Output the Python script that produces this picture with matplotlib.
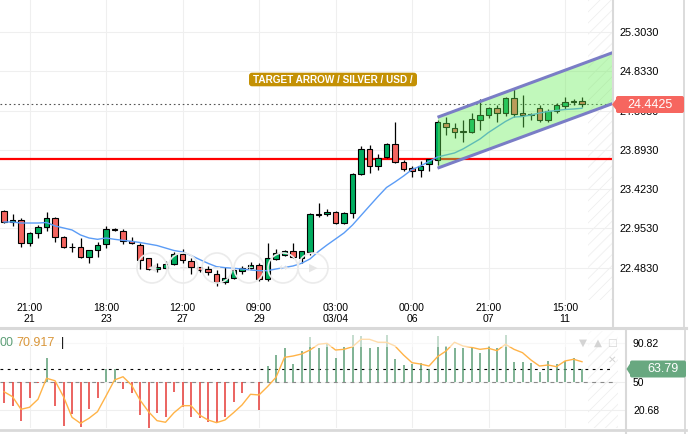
import matplotlib
matplotlib.use("Agg")
import matplotlib.pyplot as plt
from matplotlib.patches import Rectangle, FancyBboxPatch, Polygon, Ellipse
from matplotlib.lines import Line2D
from matplotlib.transforms import IdentityTransform

# ---------------- data ----------------
open_ = [23.162, 23.034, 23.054, 22.783, 22.895, 22.967, 23.075, 22.855, 22.737, 22.728,
         22.608, 22.696, 22.764, 22.943, 22.923, 22.803, 22.755, 22.596, 22.465, 22.484,
         22.528, 22.644, 22.564, 22.489, 22.465, 22.412, 22.309, 22.357, 22.444, 22.484,
         22.516, 22.345, 22.591, 22.639, 22.687, 22.603, 22.675, 23.122, 23.122, 23.146,
         23.015, 23.134, 23.601, 23.900, 23.700, 23.804, 23.960, 23.752, 23.673, 23.652,
         23.721, 23.772, 24.211, 24.151, 24.116, 24.111, 24.251, 24.310, 24.391, 24.338,
         24.510, 24.331, 24.307, 24.391, 24.251, 24.362, 24.422, 24.462, 24.478]
high = [23.174, 23.122, 23.075, 22.914, 22.994, 23.154, 23.094, 22.863, 22.783, 22.836,
        22.696, 22.795, 22.986, 22.955, 22.943, 22.855, 22.776, 22.600, 22.536, 22.564,
        22.668, 22.708, 22.603, 22.492, 22.508, 22.456, 22.496, 22.477, 22.504, 22.556,
        22.544, 22.776, 22.703, 22.696, 22.783, 22.680, 23.142, 23.254, 23.182, 23.162,
        23.154, 23.620, 23.940, 23.952, 23.840, 23.979, 24.230, 23.772, 23.700, 23.760,
        23.781, 24.251, 24.290, 24.211, 24.251, 24.338, 24.498, 24.410, 24.430, 24.529,
        24.618, 24.550, 24.331, 24.430, 24.379, 24.450, 24.522, 24.502, 24.522]
low = [23.015, 22.986, 22.735, 22.747, 22.843, 22.923, 22.795, 22.723, 22.668, 22.596,
       22.544, 22.608, 22.723, 22.923, 22.764, 22.764, 22.468, 22.456, 22.436, 22.468,
       22.516, 22.544, 22.408, 22.436, 22.396, 22.265, 22.285, 22.349, 22.405, 22.465,
       22.328, 22.325, 22.576, 22.627, 22.596, 22.544, 22.636, 23.094, 23.102, 23.003,
       23.003, 23.082, 23.589, 23.613, 23.652, 23.792, 23.733, 23.644, 23.572, 23.572,
       23.644, 23.712, 24.071, 24.032, 23.991, 24.091, 24.131, 24.271, 24.230, 24.298,
       24.283, 24.170, 24.251, 24.230, 24.230, 24.331, 24.382, 24.430, 24.410]
close = [23.027, 23.054, 22.776, 22.895, 22.967, 23.075, 22.855, 22.735, 22.728, 22.608,
         22.696, 22.755, 22.943, 22.939, 22.800, 22.783, 22.576, 22.465, 22.492, 22.528,
         22.644, 22.576, 22.489, 22.453, 22.429, 22.309, 22.357, 22.456, 22.484, 22.512,
         22.345, 22.596, 22.656, 22.687, 22.608, 22.680, 23.122, 23.114, 23.146, 23.015,
         23.134, 23.601, 23.900, 23.700, 23.800, 23.960, 23.752, 23.661, 23.640, 23.700,
         23.781, 24.223, 24.163, 24.111, 24.111, 24.259, 24.310, 24.391, 24.331, 24.510,
         24.322, 24.307, 24.322, 24.251, 24.362, 24.430, 24.462, 24.478, 24.4425]
ma = [23.030, 23.030, 23.018, 23.018, 23.018, 23.024, 22.983, 22.959, 22.935, 22.875,
      22.839, 22.823, 22.839, 22.823, 22.811, 22.799, 22.785, 22.767, 22.749, 22.719,
      22.689, 22.672, 22.630, 22.582, 22.536, 22.496, 22.484, 22.477, 22.468, 22.456,
      22.448, 22.448, 22.468, 22.486, 22.504, 22.536, 22.588, 22.678, 22.755, 22.827,
      22.899, 22.994, 23.108, 23.222, 23.335, 23.443, 23.509, 23.580, 23.658, 23.700,
      23.754, 23.808, 23.832, 23.856, 23.904, 23.963, 24.023, 24.101, 24.167, 24.233,
      24.286, 24.292, 24.310, 24.334, 24.352, 24.364, 24.376, 24.382, 24.391]
osc_bars = [27.4, 24.9, 8.8, 33.2, 49.0, 74.5, 24.9, 3.9, 15.9, 2.9,
            21.4, 32.6, 63.3, 63.0, 42.0, 37.9, 15.1, 1.8, 16.9, 13.4,
            38.9, 23.8, 13.4, 11.7, 7.5, 7.1, 13.4, 28.4, 37.9, 49.5,
            20.4, 66.4, 78.0, 85.0, 68.5, 82.1, 96.5, 85.6, 90.2, 74.5,
            86.6, 98.9, 97.9, 85.0, 86.0, 98.9, 73.8, 67.5, 68.5, 69.9,
            63.3, 97.9, 87.4, 85.6, 85.0, 85.6, 80.4, 87.4, 85.0, 98.9,
            70.9, 70.3, 69.9, 60.5, 71.7, 68.5, 72.0, 75.1, 63.79]
osc_line = [39.5, 34.3, 21.1, 23.2, 31.6, 53.6, 51.0, 34.3, 12.7, 6.4,
            11.7, 18.6, 35.0, 51.8, 55.2, 46.5, 30.8, 18.6, 9.2, 7.5,
            17.5, 24.9, 24.9, 15.1, 9.9, 7.1, 9.9, 17.5, 25.6, 36.8,
            36.1, 44.8, 54.6, 75.5, 76.9, 79.0, 83.2, 89.2, 90.2, 83.2,
            83.9, 86.6, 94.4, 94.4, 91.3, 91.3, 87.4, 78.0, 69.9, 68.5,
            66.4, 76.2, 82.1, 91.3, 87.4, 86.0, 83.9, 85.0, 82.5, 89.2,
            83.9, 80.4, 72.7, 66.4, 67.5, 65.7, 71.7, 73.5, 70.917]

tick_idx = [3, 12, 21, 30, 39, 48, 57, 66]
tick_labels = ["21:00\n21", "18:00\n23", "12:00\n27", "09:00\n29",
               "03:00\n03/04", "00:00\n06", "21:00\n07", "15:00\n11"]
price_ticks = [22.483, 22.953, 23.423, 23.893, 24.363, 24.833, 25.303]
osc_ticks = [20.68, 50, 90.82]

channel_x = [51, 71.6]
channel_upper = [24.283, 25.056]
channel_lower = [23.674, 24.447]
support_level = 23.787
last_price = 24.4425
last_osc = 63.79
last_osc_line = 70.917
title = "TARGET ARROW / SILVER / USD /"

# ---------------- figure ----------------
W, H = 696, 434
plt.rcParams["font.family"] = ["Liberation Sans", "DejaVu Sans"]
plt.rcParams["hatch.linewidth"] = 0.6
plt.rcParams["hatch.color"] = "#efefef"

fig = plt.figure(figsize=(W / 100, H / 100), dpi=100)
fig.patch.set_facecolor("white")


def fx(x):
    return x / W


def fy(y):
    return 1 - y / H


GREEN = "#00ad60"
RED = "#f4645f"

# main axes
ax = fig.add_axes([0, fy(300), fx(613), 300 / H])
x_left = -4 / 8.5
ax.set_xlim(x_left, (613 - 4) / 8.5)
ax.set_ylim(22.097, 25.686)
for s in ax.spines.values():
    s.set_visible(False)
ax.set_axisbelow(True)
ax.grid(True, color="#efefef", lw=0.8)
ax.yaxis.tick_right()
ax.set_yticks(price_ticks)
ax.set_yticklabels(["%.4f" % v for v in price_ticks])
ax.tick_params(axis="y", length=0, pad=5, labelsize=7.8, colors="black")
ax.set_xticks(tick_idx)
ax.set_xticklabels(tick_labels, linespacing=1.05)
ax.tick_params(axis="x", length=0, pad=2.5, labelsize=7.6)

# future hatch
ax.add_patch(Rectangle(((588 - 4) / 8.5, 22.0), 10, 4, facecolor="none",
                       edgecolor="#efefef", hatch="///", lw=0, zorder=0.5))

# nav circles (faint UI)
for cx, g in zip([152, 183, 217, 249, 283, 313], ["◀", "+", "−", "+", "↔", "▶"]):
    fig.add_artist(Ellipse((fx(cx), fy(268)), 30 / W, 30 / H, fc="none",
                           ec="#ebebeb", lw=1.2, zorder=0.6))
    fig.text(fx(cx), fy(268), g, color="#e6e6e6", fontsize=8, ha="center",
             va="center", family="DejaVu Sans", zorder=0.6)

ax.axhline(support_level, color="#ff0000", lw=1.6, zorder=2)
ax.axhline(last_price, color="#555555", lw=0.8, ls=(0, (1.5, 2.5)), zorder=2)

# candles
n = len(close)
bw = 0.62
for i in range(n):
    o, h, l, c = open_[i], high[i], low[i], close[i]
    col = GREEN if c >= o else RED
    ax.vlines(i, l, h, color="black", lw=0.9, zorder=3)
    b0 = min(o, c)
    bh = max(abs(c - o), 0.006)
    ax.add_patch(Rectangle((i - bw / 2, b0), bw, bh, facecolor=col,
                           edgecolor="black", lw=0.8, zorder=4))

ax.plot(range(n), ma, color="#5b9cf6", lw=1.0, zorder=5)

# channel
ax.fill_between(channel_x, channel_lower, channel_upper, color="#66ee55",
                alpha=0.4, lw=0, zorder=6)
ax.plot(channel_x, channel_upper, color="#7a7dc6", lw=2.2, zorder=7,
        solid_capstyle="butt")
ax.plot(channel_x, channel_lower, color="#7a7dc6", lw=2.2, zorder=7,
        solid_capstyle="butt")

# lower oscillator axes
ax2 = fig.add_axes([0, fy(428), fx(626), (428 - 331) / H])
ax2.set_xlim(x_left, (626 - 4) / 8.5)
ax2.set_ylim(1.5, 103.1)
for s in ax2.spines.values():
    s.set_visible(False)
ax2.set_axisbelow(True)
ax2.grid(True, color="#efefef", lw=0.8)
ax2.set_xticks(tick_idx)
ax2.set_xticklabels([])
ax2.yaxis.tick_right()
ax2.set_yticks(osc_ticks)
ax2.set_yticklabels(["20.68", "50", "90.82"])
ax2.tick_params(axis="y", length=0, pad=5, labelsize=7.5)
ax2.tick_params(axis="x", length=0)

ax2.add_patch(Rectangle(((588 - 4) / 8.5, 0), (30) / 8.5, 110, facecolor="none",
                        edgecolor="#efefef", hatch="///", lw=0, zorder=0.5))
xmax_frac = 613 / 626
ax2.axhline(50, xmax=xmax_frac, color="#8a8a8a", lw=0.8, ls=(0, (3.5, 4)), zorder=2)
ax2.axhline(last_osc, xmax=xmax_frac, color="black", lw=0.8, ls=(0, (2.5, 4)), zorder=2)
for i, v in enumerate(osc_bars):
    ax2.vlines(i, 50, v, color=("#5c9e76" if v >= 50 else "#e53935"), lw=1.1, zorder=3)
ax2.plot(range(n), osc_line, color="#ffb347", lw=1.0, zorder=4)
ax2.add_patch(Rectangle((x_left, 86.3), 80, 20, facecolor="white", alpha=0.55,
                        lw=0, zorder=5))

fig.text(fx(0), fy(343), "00", color="#5c9e76", fontsize=9, ha="left", va="center")
fig.text(fx(16.5), fy(343), "%.3f" % last_osc_line, color="#d9963a", fontsize=9,
         ha="left", va="center")
fig.text(fx(62), fy(343), "|", color="black", fontsize=9, ha="center", va="center")
for gx, gy, g in [(583, 343, "▼"), (598, 343, "▲"), (612, 343, "□"), (612, 360, "✕")]:
    fig.text(fx(gx), fy(gy), g, color="#d4d4d4", fontsize=7.5, ha="center",
             va="center", family="DejaVu Sans")

# separators
def hline(y, x0, x1, lw, col="#d9d9d9"):
    fig.add_artist(Line2D([fx(x0), fx(x1)], [fy(y), fy(y)], color=col, lw=lw,
                          transform=fig.transFigure))


def vline(x, y0, y1, lw, col="#d9d9d9"):
    fig.add_artist(Line2D([fx(x), fx(x)], [fy(y0), fy(y1)], color=col, lw=lw,
                          transform=fig.transFigure))


vline(613, 0, 327, 1.5)
vline(684, 0, 327, 1.3)
hline(328, 0, 686, 2.2)
vline(626, 330, 434, 1.5)
vline(685, 330, 434, 1.3)
hline(429.5, 0, 686, 2.0)

# boxes in pixel space
T = IdentityTransform()


def pbox(x0, y0, x1, y1, color, r=2.5):
    fig.add_artist(FancyBboxPatch((x0 + r, H - y1 + r), (x1 - x0) - 2 * r,
                                  (y1 - y0) - 2 * r, boxstyle="round,pad=%g" % r,
                                  fc=color, ec="none", transform=T, zorder=4))


# title box
pbox(249, 72.7, 417, 86.3, "#c49104", r=3)
fig.text(fx(333), fy(79.8), title, color="white", fontsize=7.2, fontweight="bold",
         ha="center", va="center", zorder=5)

# last price label
pbox(616, 96, 684, 113, "#f6665f", r=2)
fig.add_artist(Polygon([(612, H - 104.5), (617, H - 98), (617, H - 111)],
                       closed=True, fc="#f6665f", ec="none", transform=T, zorder=4))
fig.text(fx(650), fy(104.8), "%.4f" % last_price, color="white", fontsize=9,
         ha="center", va="center", zorder=5)

# last oscillator label
pbox(630, 360.5, 686, 377.5, "#68a880", r=2)
fig.add_artist(Polygon([(626.5, H - 369), (631, H - 362), (631, H - 376)],
                       closed=True, fc="#68a880", ec="none", transform=T, zorder=4))
fig.text(fx(678.5), fy(369.5), "%.2f" % last_osc, color="white", fontsize=9,
         ha="right", va="center", zorder=5)

fig.savefig("out.png", dpi=100)
